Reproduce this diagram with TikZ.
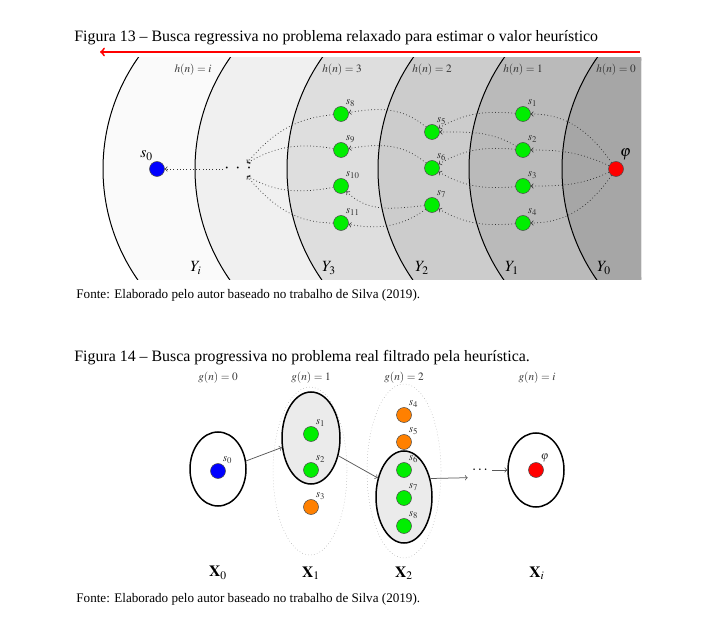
\documentclass[tikz,border=0pt]{standalone}
\usepackage{mathptmx}
\usepackage{fontspec}
\setmainfont{Liberation Serif}
\usetikzlibrary{arrows,positioning,calc,shapes.geometric}
\definecolor{verde}{RGB}{0,238,0}
\definecolor{laranja}{RGB}{255,128,0}

\begin{document}
\begin{tikzpicture}[x=0.8pt,y=0.8pt,
  estado/.style={circle,draw=black!70,fill=verde,minimum size=12pt,inner sep=0pt},
  rotulo/.style={font=\fontsize{9}{10}\selectfont,inner sep=0.5pt,text=black!80},
  grande/.style={font=\fontsize{12.5}{14}\selectfont},
  legenda/.style={anchor=west,font=\fontsize{12.7}{15}\selectfont},
  fonte/.style={anchor=west,font=\fontsize{10.5}{12}\selectfont},
  seta/.style={arrows=->,dotted,color=black!80,line width=0.6pt},
  conj/.style={draw,ellipse,line width=1.2pt,inner sep=0pt},
  cobertura/.style={draw=black!40,dotted,ellipse,inner sep=0pt},
  liga/.style={arrows=->,color=black!65,line width=0.6pt}]
  \useasboundingbox (0,0) rectangle (721,641);

  \node[legenda] (cap13) at (70,603) {Figura 13 -- Busca regressiva no problema relaxado para estimar o valor heurístico};
  \coordinate (ini) at (640,589);
  \coordinate (fim) at (100,589);
  \draw[arrows=->,color=red,line width=1.5pt] (ini) -- (fim);

  \begin{scope}
    \clip (75,361) rectangle (641,583);
    \foreach \cx/\tom in {297/2,389/6,481/13,572/20,663/27,756/35}
      \filldraw[fill=black!\tom,draw=black,line width=0.8pt] (\cx,472) circle[radius=194];
  \end{scope}

  \node[rotulo] (hi) at (193,571) {$h(n)=i$};
  \node[rotulo] (h3) at (342,571) {$h(n)=3$};
  \node[rotulo] (h2) at (432,571) {$h(n)=2$};
  \node[rotulo] (h1) at (523,571) {$h(n)=1$};
  \node[rotulo] (h0) at (616,571) {$h(n)=0$};
  \node[grande] (Yi) at (196,373) {$Y_i$};
  \node[grande] (Y3) at (329,373) {$Y_3$};
  \node[grande] (Y2) at (422,373) {$Y_2$};
  \node[grande] (Y1) at (512,373) {$Y_1$};
  \node[grande] (Y0) at (604,373) {$Y_0$};

  \node[estado,fill=blue,label={[grande,inner sep=1pt]110:$s_0$}] (s0) at (157,472) {};
  \node[estado,fill=red,label={[grande,inner sep=1pt]70:$\varphi$}] (phi) at (616,472) {};
  \node[font=\Large,inner sep=1pt] (pts) at (238,472) {$\cdot\hspace{3pt}\cdot\hspace{3pt}\cdot$};
  \coordinate (pa) at (247,478);
  \coordinate (pb) at (247,465);
  \node[estado,label={[rotulo]60:$s_8$}] (s8) at (341,527) {};
  \node[estado,label={[rotulo]60:$s_9$}] (s9) at (341,491) {};
  \node[estado,label={[rotulo]60:$s_{10}$}] (s10) at (341,455) {};
  \node[estado,label={[rotulo]60:$s_{11}$}] (s11) at (341,418) {};
  \node[estado,label={[rotulo]60:$s_5$}] (s5) at (432,509) {};
  \node[estado,label={[rotulo]60:$s_6$}] (s6) at (432,473) {};
  \node[estado,label={[rotulo]60:$s_7$}] (s7) at (432,436) {};
  \node[estado,label={[rotulo]60:$s_1$}] (s1) at (523,527) {};
  \node[estado,label={[rotulo]60:$s_2$}] (s2) at (523,491) {};
  \node[estado,label={[rotulo]60:$s_3$}] (s3) at (523,455) {};
  \node[estado,label={[rotulo]60:$s_4$}] (s4) at (523,418) {};

  \draw[seta] (phi) to[out=125,in=0] (s1);
  \draw[seta] (phi) to[out=155,in=0] (s2);
  \draw[seta] (phi) to[out=205,in=0] (s3);
  \draw[seta] (phi) to[out=235,in=0] (s4);
  \draw[seta] (s1) to[out=175,in=30] (s5);
  \draw[seta] (s2) to[out=150,in=0] (s5);
  \draw[seta] (s2) to[out=175,in=30] (s6);
  \draw[seta] (s3) to[out=185,in=-30] (s6);
  \draw[seta] (s4) to[out=185,in=-30] (s7);
  \draw[seta] (s5) to[out=140,in=10] (s8);
  \draw[seta] (s6) to[out=140,in=10] (s9);
  \draw[seta] (s7) to[out=185,in=-45] (s10);
  \draw[seta] (s7) to[out=215,in=-10] (s11);
  \draw[seta] (s8) to[out=185,in=50] (pa);
  \draw[seta] (s9) to[out=170,in=30] (pa);
  \draw[seta] (s10) to[out=190,in=-30] (pb);
  \draw[seta] (s11) to[out=180,in=-50] (pb);
  \draw[seta] (pts) -- (s0);

  \node[fonte] (fonte13) at (72,346) {Fonte: Elaborado pelo autor baseado no trabalho de Silva (2019).};

  \node[legenda] (cap14) at (70,283) {Figura 14 -- Busca progressiva no problema real filtrado pela heurística.};
  \node[rotulo] (g0) at (218,263) {$g(n)=0$};
  \node[rotulo] (g1) at (311,263) {$g(n)=1$};
  \node[rotulo] (g2) at (404,263) {$g(n)=2$};
  \node[rotulo] (gi) at (537,263) {$g(n)=i$};

  \node[cobertura,minimum width=59.2pt,minimum height=134.4pt] (C1) at (310,170) {};
  \node[cobertura,minimum width=59.2pt,minimum height=139.2pt] (C2) at (404,170) {};
  \node[conj,fill=black!8,minimum width=46.4pt,minimum height=73.6pt] (X1) at (311,203) {};
  \node[conj,fill=black!8,minimum width=44.8pt,minimum height=73.6pt] (X2) at (404,144) {};
  \node[conj,minimum width=44.8pt,minimum height=59.2pt] (X0) at (218,172) {};
  \node[conj,minimum width=44.8pt,minimum height=59.2pt] (Xi) at (536,171) {};

  \node[estado,fill=blue,label={[rotulo]60:$s_0$}] (t0) at (218,170) {};
  \node[estado,label={[rotulo]60:$s_1$}] (t1) at (311,207) {};
  \node[estado,label={[rotulo]60:$s_2$}] (t2) at (311,171) {};
  \node[estado,fill=laranja,label={[rotulo]60:$s_3$}] (t3) at (311,134) {};
  \node[estado,fill=laranja,label={[rotulo]60:$s_4$}] (t4) at (404,226) {};
  \node[estado,fill=laranja,label={[rotulo]60:$s_5$}] (t5) at (404,199) {};
  \node[estado,label={[rotulo]60:$s_6$}] (t6) at (404,171) {};
  \node[estado,label={[rotulo]60:$s_7$}] (t7) at (404,143) {};
  \node[estado,label={[rotulo]60:$s_8$}] (t8) at (404,115) {};
  \node[estado,fill=red,label={[rotulo]60:$\varphi$}] (tphi) at (536,171) {};
  \node[font=\large] (pts2) at (480,171) {$\cdots$};

  \draw[liga] (X0.16) -- (X1.198);
  \draw[liga] (X1.-33) -- (X2.144);
  \draw[liga] (X2.35) -- (pts2.south west);
  \draw[liga] (pts2.east) -- (Xi.west);

  \node[grande] (L0) at (218,68) {$\mathbf{X}_0$};
  \node[grande] (L1) at (311,68) {$\mathbf{X}_1$};
  \node[grande] (L2) at (404,68) {$\mathbf{X}_2$};
  \node[grande] (Li) at (537,68) {$\mathbf{X}_i$};

  \node[fonte] (fonte14) at (72,42) {Fonte: Elaborado pelo autor baseado no trabalho de Silva (2019).};
\end{tikzpicture}
\end{document}
